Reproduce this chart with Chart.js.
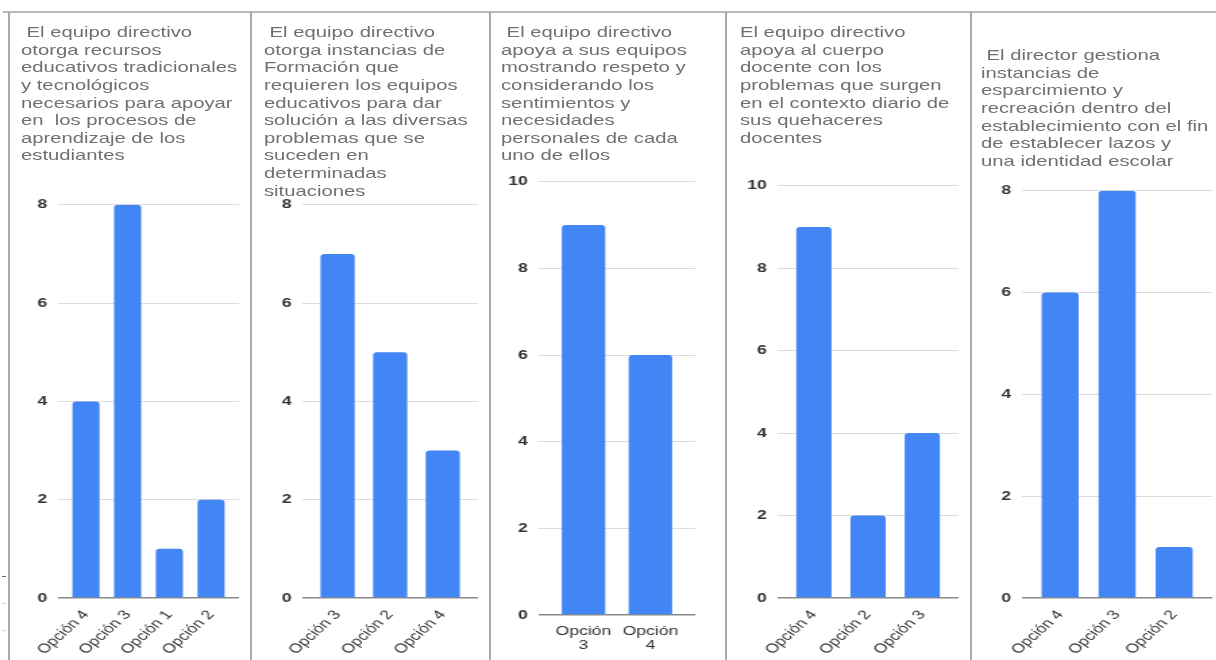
<!DOCTYPE html>
<html>
<head>
<meta charset="utf-8">
<script src="https://cdn.jsdelivr.net/npm/chart.js@4/dist/chart.umd.min.js"></script>
<style>
  html, body { margin: 0; padding: 0; background: #fff; overflow: hidden; }
  body { width: 1216px; height: 660px; position: relative; font-family: "Liberation Sans", Arial, sans-serif; }
  #stage { position: absolute; left: 0; top: 0; width: 901px; height: 660px; transform: scaleX(1.35); transform-origin: 0 0; }
  .panel { position: absolute; }
  .panel canvas { display: block; }
  .title { position: absolute; font-size: 15px; line-height: 17.6px; color: #707070; white-space: pre; }
  .rule { position: absolute; background: #b0b0b0; }
</style>
</head>
<body>
<div id="stage"></div>
<script>
// ---- Survey items: titles, answer options and counts ----
const titulo1 = [" El equipo directivo", "otorga recursos", "educativos tradicionales", "y tecnológicos",
  "necesarios para apoyar", "en  los procesos de", "aprendizaje de los", "estudiantes"];
const opciones1 = ["Opción 4", "Opción 3", "Opción 1", "Opción 2"];
const respuestas1 = [4, 8, 1, 2];

const titulo2 = [" El equipo directivo", "otorga instancias de", "Formación que", "requieren los equipos",
  "educativos para dar", "solución a las diversas", "problemas que se", "suceden en", "determinadas", "situaciones"];
const opciones2 = ["Opción 3", "Opción 2", "Opción 4"];
const respuestas2 = [7, 5, 3];

const titulo3 = [" El equipo directivo", "apoya a sus equipos", "mostrando respeto y", "considerando los",
  "sentimientos y", "necesidades", "personales de cada", "uno de ellos"];
const opciones3 = ["Opción 3", "Opción 4"];
const respuestas3 = [9, 6];

const titulo4 = ["El equipo directivo", "apoya al cuerpo", "docente con los", "problemas que surgen",
  "en el contexto diario de", "sus quehaceres", "docentes"];
const opciones4 = ["Opción 4", "Opción 2", "Opción 3"];
const respuestas4 = [9, 2, 4];

const titulo5 = [" El director gestiona", "instancias de", "esparcimiento y", "recreación dentro del",
  "establecimiento con el fin", "de establecer lazos y", "una identidad escolar"];
const opciones5 = ["Opción 4", "Opción 3", "Opción 2"];
const respuestas5 = [6, 8, 1];

// Axis maxima (y ticks every 2)
const maximos = [8, 8, 10, 10, 8];

// ---- Layout ----
const S = 1.35;          // horizontal stretch of the stage
const FONT = '"Liberation Sans", Arial, sans-serif';
const YW = 30, PR = 12, PT = 12, XH = 62;

// frame lines (page coordinates)
function rule(l, t, w, h, c) {
  const d = document.createElement('div');
  d.className = 'rule';
  Object.assign(d.style, { left: l + 'px', top: t + 'px', width: w + 'px', height: h + 'px' });
  if (c) d.style.background = c;
  document.body.appendChild(d);
}
rule(3, 11, 1213, 2, '#b8b8b8');
[8, 250, 489, 725, 970].forEach(x => rule(x, 12, 2, 648, '#ababab'));
rule(2, 576, 4, 1, '#6c5f8f');
rule(2, 603, 3, 1, '#c8c8c8');
rule(2, 630, 3, 1, '#c8c8c8');

const paneles = [
  { title: titulo1, cats: opciones1, vals: respuestas1, max: maximos[0], tx: 21, ty: 23.3, gl: 58, gr: 239, gt: 201, z0: 598, rot: 50, xpad: 10 },
  { title: titulo2, cats: opciones2, vals: respuestas2, max: maximos[1], tx: 264, ty: 23.3, gl: 302, gr: 477, gt: 201, z0: 598, rot: 50, xpad: 10 },
  { title: titulo3, cats: opciones3, vals: respuestas3, max: maximos[2], tx: 501, ty: 23.3, gl: 538, gr: 695, gt: 178, z0: 615, rot: 0, xpad: 9 },
  { title: titulo4, cats: opciones4, vals: respuestas4, max: maximos[3], tx: 740, ty: 23.3, gl: 777, gr: 958, gt: 182, z0: 598, rot: 50, xpad: 10 },
  { title: titulo5, cats: opciones5, vals: respuestas5, max: maximos[4], tx: 981, ty: 46.3, gl: 1022, gr: 1212, gt: 187, z0: 598, rot: 50, xpad: 10 }
];

const stage = document.getElementById('stage');

paneles.forEach(p => {
  const t = document.createElement('div');
  t.className = 'title';
  t.style.left = (p.tx / S) + 'px';
  t.style.top = p.ty + 'px';
  t.textContent = p.title.join('\n');
  stage.appendChild(t);

  const w = Math.round((p.gr - p.gl) / S + YW + PR);
  const h = Math.round(p.z0 - p.gt + PT + XH);
  const box = document.createElement('div');
  box.className = 'panel';
  Object.assign(box.style, {
    left: (p.gl / S - YW) + 'px', top: (p.gt - PT) + 'px', width: w + 'px', height: h + 'px'
  });
  const cv = document.createElement('canvas');
  cv.width = w; cv.height = h;
  cv.style.width = w + 'px'; cv.style.height = h + 'px';
  box.appendChild(cv);
  stage.appendChild(box);

  const n = p.vals.length;
  new Chart(cv, {
    type: 'bar',
    data: {
      datasets: [{
        data: p.vals.map((v, i) => ({ x: i, y: v })),
        backgroundColor: '#4285f4',
        borderRadius: { topLeft: 3, topRight: 3, bottomLeft: 0, bottomRight: 0 },
        borderSkipped: 'start',
        categoryPercentage: 1,
        barPercentage: 0.65
      }]
    },
    options: {
      responsive: false,
      animation: false,
      devicePixelRatio: 1,
      layout: { padding: { left: 0, right: PR, top: PT, bottom: 0 } },
      plugins: { legend: { display: false }, tooltip: { enabled: false }, title: { display: false } },
      scales: {
        x: {
          type: 'linear',
          offset: false,
          min: -0.67,
          max: n - 1 + 0.67,
          grid: { display: false, drawTicks: false, offset: false },
          border: { display: false },
          afterBuildTicks: sc => { sc.ticks = p.cats.map((c, i) => ({ value: i })); },
          afterFit: sc => { sc.height = XH; },
          ticks: {
            autoSkip: false,
            minRotation: p.rot,
            maxRotation: p.rot,
            padding: p.xpad,
            color: '#333',
            font: { family: FONT, size: 13, lineHeight: 1.08 },
            callback: v => (p.rot ? p.cats[v] : p.cats[v].split(' '))
          }
        },
        y: {
          min: 0,
          max: p.max,
          border: { display: false },
          grid: {
            drawTicks: false,
            color: c => (c.tick && c.tick.value === 0 ? '#8a8a8a' : '#dcdcdc'),
            lineWidth: c => (c.tick && c.tick.value === 0 ? 1.5 : 1)
          },
          afterFit: sc => { sc.width = YW; },
          ticks: {
            stepSize: 2,
            padding: 8,
            color: '#333',
            font: { family: FONT, size: 13, weight: 'bold' }
          }
        }
      }
    }
  });
});
</script>
</body>
</html>
